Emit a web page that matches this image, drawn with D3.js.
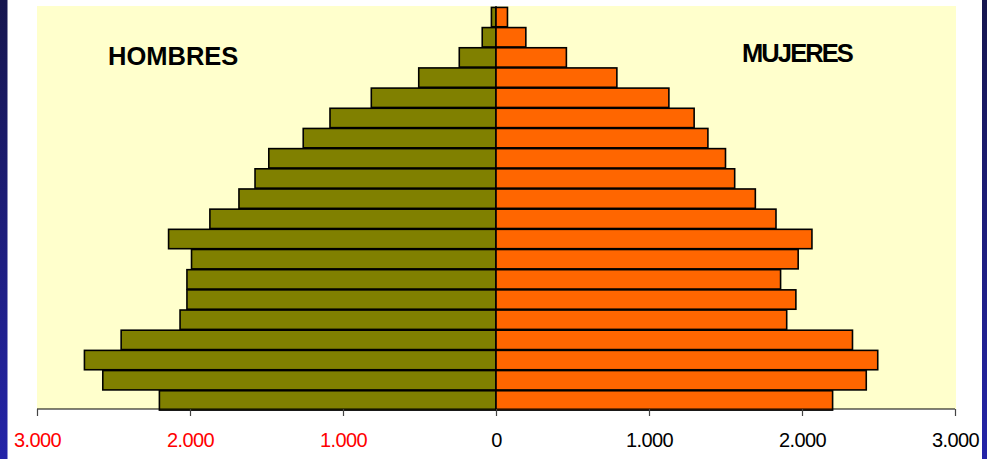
<!DOCTYPE html>
<html>
<head>
<meta charset="utf-8">
<script src="https://cdn.jsdelivr.net/npm/d3@7"></script>
<style>
  html, body { margin: 0; padding: 0; background: #ffffff; overflow: hidden; }
  svg { display: block; }
</style>
</head>
<body>
<svg id="chart" width="987" height="459"></svg>
<script>
// Age groups, bottom (youngest) to top (oldest)
const ageGroups = ["0-4","5-9","10-14","15-19","20-24","25-29","30-34","35-39","40-44","45-49",
                   "50-54","55-59","60-64","65-69","70-74","75-79","80-84","85-89","90-94","95+"];
const hombres = [2200, 2570, 2690, 2450, 2065, 2020, 2020, 1990, 2140, 1870,
                 1680, 1575, 1485, 1260, 1085, 815, 505, 240, 90, 30];
const mujeres = [2200, 2420, 2495, 2330, 1900, 1960, 1860, 1975, 2065, 1830,
                 1695, 1560, 1500, 1385, 1295, 1130, 790, 460, 195, 75];
const tickValues = [-3000, -2000, -1000, 0, 1000, 2000, 3000];
const tickLabels = ["3.000", "2.000", "1.000", "0", "1.000", "2.000", "3.000"];
const seriesNames = ["HOMBRES", "MUJERES"];

const svg = d3.select("#chart");
const W = 987, H = 459;
const plot = { left: 37, right: 955, top: 6, bottom: 409 };

// Background
svg.append("rect").attr("x", 0).attr("y", 0).attr("width", W).attr("height", H).attr("fill", "#ffffff");
const defs = svg.append("defs");
const grad = defs.append("linearGradient").attr("id", "blueEdge")
  .attr("x1", 0).attr("y1", 0).attr("x2", 0).attr("y2", 1);
grad.append("stop").attr("offset", "0%").attr("stop-color", "#16164e");
grad.append("stop").attr("offset", "100%").attr("stop-color", "#2424a8");
svg.append("rect").attr("x", 0).attr("y", 0).attr("width", 7.5).attr("height", H).attr("fill", "url(#blueEdge)");
svg.append("rect").attr("x", 982).attr("y", 0).attr("width", 5).attr("height", H).attr("fill", "url(#blueEdge)");

// Plot area
svg.append("rect")
  .attr("x", plot.left).attr("y", plot.top)
  .attr("width", plot.right - plot.left + 1).attr("height", plot.bottom - plot.top)
  .attr("fill", "#ffffcc");

const x = d3.scaleLinear().domain([-3000, 3000]).range([plot.left, plot.right]);
const y = d3.scaleBand().domain(ageGroups.slice().reverse())
  .range([7, 410.5]).paddingInner(0.04).paddingOuter(0.02);

// Vertical zero line
svg.append("line")
  .attr("x1", x(0)).attr("x2", x(0)).attr("y1", plot.top).attr("y2", plot.bottom)
  .attr("stroke", "#000").attr("stroke-width", 1);

// Bars
svg.append("g").selectAll("rect").data(ageGroups)
  .join("rect")
  .attr("x", (d, i) => x(-hombres[i]))
  .attr("y", d => y(d))
  .attr("width", (d, i) => x(0) - x(-hombres[i]))
  .attr("height", y.bandwidth())
  .attr("fill", "#808000")
  .attr("stroke", "#000").attr("stroke-width", 1.6);

svg.append("g").selectAll("rect").data(ageGroups)
  .join("rect")
  .attr("x", x(0))
  .attr("y", d => y(d))
  .attr("width", (d, i) => x(mujeres[i]) - x(0))
  .attr("height", y.bandwidth())
  .attr("fill", "#ff6600")
  .attr("stroke", "#000").attr("stroke-width", 1.6);

// X axis
const axis = d3.axisBottom(x)
  .tickValues(tickValues)
  .tickSize(7)
  .tickPadding(17)
  .tickFormat((d, i) => tickLabels[i]);
const gAxis = svg.append("g").attr("transform", `translate(0,${plot.bottom})`).call(axis);
gAxis.select(".domain").attr("stroke", "#000").attr("stroke-width", 1.2)
  .attr("d", `M${plot.left},0H${plot.right}`);
gAxis.selectAll(".tick line").attr("stroke", "#444").attr("stroke-width", 1.2);
gAxis.selectAll(".tick text")
  .attr("font-family", "Liberation Sans, Arial, sans-serif")
  .attr("font-size", 20)
  .attr("letter-spacing", "-0.6px")
  .attr("fill", d => d < 0 ? "#ff0000" : "#000000");

// Series labels
svg.append("text")
  .attr("x", 108).attr("y", 64.5)
  .attr("font-family", "Liberation Sans, Arial, sans-serif")
  .attr("font-weight", "bold").attr("font-size", 25.5)
  .attr("fill", "#000")
  .text(seriesNames[0]);
svg.append("text")
  .attr("x", 742).attr("y", 62)
  .attr("font-family", "Liberation Sans, Arial, sans-serif")
  .attr("font-weight", "bold").attr("font-size", 25.5)
  .attr("letter-spacing", "-1.9px")
  .attr("fill", "#000")
  .text(seriesNames[1]);
</script>
</body>
</html>
